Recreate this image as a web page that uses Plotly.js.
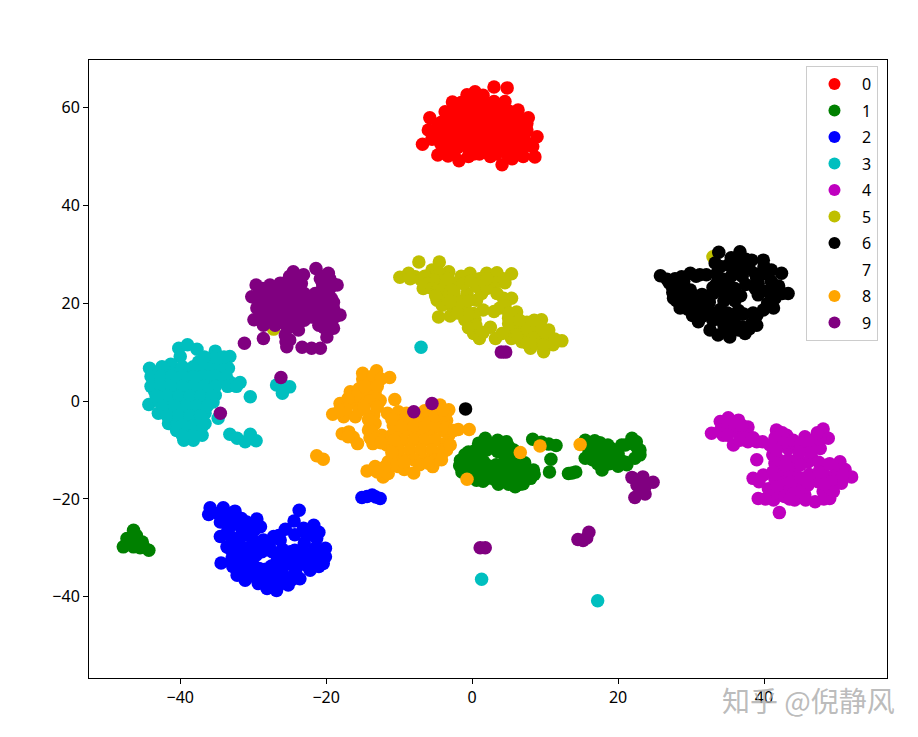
<!DOCTYPE html>
<html><head><meta charset="utf-8">
<script src="https://cdn.plot.ly/plotly-3.0.1.min.js"></script>
<style>html,body{margin:0;padding:0;background:#fff}</style></head>
<body><div id="chart" style="width:918px;height:737px"></div>
<script>
const labels = ['0','1','2','3','4','5','6','7','8','9'];
const colors = ['#ff0000','#008000','#0000ff','#00bfbf','#bf00bf','#bfbf00','#000000','#ffffff','#ffa500','#800080'];
const tickX = [-40,-20,0,20,40];
const tickY = [-40,-20,0,20,40,60];

const points0 = [[-6.8,52.5],[-5.8,57.9],[-6,55.4],[-5.5,53.5],[-4.7,50.3],[-3.3,50.1],[-1.8,49.1],[-0.5,50],[1,50.5],[2.5,50],[4.1,48.3],[5.5,49.5],[7,50],[8.6,49.9],[8.9,54],[8.3,52],[7.5,55.4],[7.7,57.9],[6.3,59.5],[4.5,61.2],[4.8,64],[3,64.2],[1.5,62.5],[0.4,63.2],[-0.7,62.6],[-2.7,61.1],[-3.7,59.1],[-4.2,57],
[-3.5,51.5],[-2,51.8],[-0.5,51.5],[1,52],[2.5,51.5],[4,51.7],[5.5,51.5],[7,52],
[-3.5,53.5],[-2,53.8],[-0.5,53.3],[1,53.7],[2.5,53.4],[4,53.7],[5.5,53.4],[7,53.8],
[-4,55.5],[-2.5,55.7],[-1,55.3],[0.5,55.7],[2,55.4],[3.5,55.7],[5,55.3],[6.5,55.6],
[-3.5,57.5],[-2,57.3],[-0.5,57.7],[1,57.4],[2.5,57.7],[4,57.3],[5.5,57.6],[6.8,57.4],
[-2.5,59.5],[-1,59.3],[0.5,59.7],[2,59.4],[3.5,59.6],[5,59.3],[-1.5,61],[0,61.3],[1.5,61],[3,61.2],[4.2,60.5],
[-4.3,52.6],[-2.8,52.6],[-1.3,52.7],[0.2,52.6],[1.8,52.7],[3.3,52.5],[4.8,52.6],[6.3,52.7],[7.8,52.6],
[-4.8,54.6],[-3.2,54.6],[-1.7,54.6],[-0.2,54.5],[1.3,54.6],[2.8,54.7],[4.3,54.5],[5.8,54.6],[7.2,54.7],
[-4.7,56.5],[-3,56.5],[-1.5,56.6],[0,56.5],[1.5,56.5],[3,56.6],[4.7,56.5],[6.2,56.5],[7.5,56.7],
[-3,58.5],[-1.5,58.4],[0,58.6],[1.5,58.5],[3,58.4],[4.5,58.6],[6,58.5],
[-1.8,60.3],[-0.3,60.3],[1,60.5],[2.5,60.3],[4,60.2],[-2.5,50.5],[0.2,50.5],[3.3,50.5],[4.8,50.5],[6.2,50.5]];

const points1 = [[1.8,-7.6],[4.7,-8.3],[-1.6,-12.1],[-1.4,-14.5],[-0.5,-10.4],[0.9,-8.6],[0.6,-16.2],[2,-15.8],[3.6,-17],[5.9,-17.5],[7,-16.9],[8.4,-14.1],[8,-15.8],[5.7,-10],[3.2,-8.7],
[0.5,-10],[2,-10],[3.5,-10.3],[-1,-12.5],[0.5,-12],[1.6,-12.4],[4.5,-12],[6,-12],[7.2,-12.6],[-0.5,-14],[1,-14],[2.5,-14.3],[4,-14],[5.5,-14],[7,-14],[4.5,-16],[6,-16],[1.3,-15.5],[-0.2,-15.2],[5,-11],
[1,-9],[2.5,-8.8],[3.5,-8],[4,-9.5],[5,-9.3],[-1,-11],[-0.2,-11.3],[1.2,-11],[2.4,-9.5],[5.2,-12.5],[6.8,-13],[3.3,-13],[2.2,-13.2],[0,-13],[-0.7,-13.2],[-1.7,-13.2],[0.2,-15],[1.8,-15],[3.2,-15.3],[4.8,-15],[5.6,-15.6],[7.3,-15],[8.5,-15],[3.6,-16],[5,-17],[6.6,-17],[3,-16],[1.5,-16.4],[5.2,-11.7],[6.5,-12.7],
[8.3,-7.8],[9.5,-8.4],[10.5,-8.8],[11.5,-9.1],[10.8,-11.9],[10.6,-14.5],[13.2,-14.8],[13.7,-14.7],[14.2,-14.5],
[15.5,-8],[16.8,-8.1],[18.6,-9],[15.5,-11.7],[17.8,-14.1],[19.6,-12.7],[21.2,-13],[23,-10],[21.9,-7.6],[21,-9],[22.3,-11.7],[16.6,-10.7],[18.2,-11.4],[20,-10.7],[19.2,-9.8],[16.5,-12],[18.8,-12.8],[21,-12.5],[17.5,-9.5],[22.3,-9],
[16.2,-9],[17.5,-8.5],[18,-10.2],[19.4,-11.2],[17,-11],[17.2,-12.8],[18,-13.3],[20.3,-12],[20.5,-9],[22.5,-8.3],[23,-11],[22.7,-9.7],[20,-13.3],[16,-10],[15.8,-9.2],[19,-11.9],[18,-12],
[-46.4,-26.4],[-47.3,-28.1],[-47.8,-29.8],[-46.4,-29.8],[-44.3,-30.5],[-45.2,-28.8],[-46,-27.5],[-45.5,-30],[-46.8,-28.8],[-45.7,-29.3],[-46,-28.6],[-47,-29],[-45,-29.8]];

const points2 = [[-35.9,-21.8],[-36.1,-23.2],[-34.1,-21.8],[-32.5,-22.5],[-34.5,-24.7],[-30.9,-24.7],[-29.5,-24.1],[-29,-25.7],[-34.5,-27.7],[-33.6,-29.8],[-34.4,-33.1],[-32.9,-32.2],[-32.2,-35.6],[-31.1,-36.6],[-29.3,-37.3],[-28.1,-38.3],[-26.8,-38.7],[-25.2,-37.6],[-23.6,-36.3],[-22.2,-34.6],[-20.4,-33.2],[-20.1,-31.8],[-20.1,-30.1],[-21.3,-28.1],[-21.7,-25.4],[-23.7,-22.3],[-24.4,-24.5],[-25.6,-26.2],[-23.1,-26],[-27.2,-27.7],[-28.6,-28.4],[-26.3,-28.4],
[-32.9,-25.4],[-31.5,-26.7],[-32.5,-28.8],[-31.1,-30.1],[-30.2,-28],[-31.5,-32.9],[-30.4,-32],[-30.6,-34.6],[-27.4,-30.8],[-28.8,-30.8],[-24.9,-30.8],[-23.8,-32.5],[-25.6,-33.5],[-27,-34.9],[-25.6,-35.9],[-27.2,-36.9],[-24.2,-35],[-22.2,-32.2],[-21.5,-30.1],[-22.6,-27.5],[-29.5,-36],[-31.6,-24],[-33.2,-23.5],[-30,-29.5],
[-34.8,-23],[-33.5,-24],[-32,-24.5],[-33.5,-26.5],[-31.8,-28],[-30.8,-27],[-29.8,-26.3],[-33,-27.8],[-33,-30.5],[-31.8,-31],[-30.2,-30.8],[-29.6,-31.5],[-30,-33.5],[-32.8,-33.8],[-31.5,-35],[-30,-35.8],[-29.2,-34.2],[-26.7,-32.5],[-25.3,-31.8],[-24.3,-30.5],[-26,-30.3],[-24.2,-33.8],[-22.8,-33.5],[-23,-31],[-21.5,-32.5],[-21,-33.8],[-26.4,-33.2],[-28,-35.8],[-28.3,-37],[-26.2,-37.3],[-24.7,-36.5],[-26.3,-35],[-21,-26.8],[-22,-26.8],[-20.5,-31],[-21.3,-31.2],[-27.8,-29.5],[-29,-29.3],[-26.5,-27.5],
[-27.5,-33.7],[-23,-29],[-24.3,-27.3],[-28.3,-34.4],
[-15.1,-19.7],[-14.4,-19.5],[-13.7,-19.2],[-13.2,-19.6],[-12.6,-19.9]];

const points3 = [[-40.2,10.8],[-39,11.5],[-37.7,10.6],[-40,9.1],[-35.2,10.2],[-33.2,9.1],[-33.4,6.7],[-44.2,6.7],[-31.8,3.8],[-33.2,3.9],[-44.3,-0.7],[-43,-2.5],[-41.6,-4.6],[-39.5,-8],[-38.2,-8],[-36.6,-4.6],[-36.6,-2.5],[-35.2,1.2],[-34.8,-3.5],[-30.4,0.9],
[-33.2,-6.8],[-32.2,-7.6],[-31.1,-8.3],[-30.4,-6.8],[-29.6,-8.1],[-26.8,3.3],[-26,1.6],[-25,2.9],[-26.2,3.8],[1.3,-36.4],[17.2,-40.8],[-7,11],
[-42.3,6.7],[-41.3,7.5],[-43,6],[-41.5,5.7],[-40,6],[-38.5,6],[-37,6.3],[-35.5,6],[-34,6.2],[-37.5,8],[-36,8.2],[-34.5,8],
[-43.5,4],[-42,4.2],[-40.5,3.8],[-39,4],[-37.5,4.2],[-36,3.8],[-34.5,4],[-43.5,2],[-42,2],[-40.5,1.8],[-39,2.2],[-37.5,2],[-36,2],
[-43,0],[-41.5,0],[-40,0.2],[-38.5,0],[-37,0],[-35.5,-0.2],[-41.5,-2],[-40,-2],[-38.5,-2.2],[-37,-2],[-40.5,-4],[-39,-4],[-37.5,-4.2],[-40.5,-6],[-39,-6],[-37.5,-6.2],
[-42.5,7],[-39.7,7],[-38.2,7],[-36.7,7],[-35.2,7],[-33.8,7],[-35.5,9],[-34,9],[-36.7,9],
[-44,5],[-42.7,5],[-41.2,5],[-39.7,5],[-38.2,5],[-36.7,5],[-35.2,5],[-33.7,5],
[-44,3],[-42.7,3],[-41.2,3],[-39.7,3],[-38.2,3],[-36.7,3],[-35.2,3],[-33.5,3],[-32.3,3],
[-43.3,1],[-41.8,1],[-40.2,1],[-38.7,1],[-37.2,1],[-35.7,1],
[-42.3,-1],[-40.8,-1],[-39.2,-1],[-37.7,-1],[-36.3,-1],[-41.8,-3],[-40.2,-3],[-38.7,-3],[-37.2,-3],
[-39.7,-5],[-38.2,-5],[-36.9,-5],[-39.7,-7],[-38.2,-7],[-37,-7]];

const points4 = [[32.8,-6.6],[34,-4.2],[35.1,-3.4],[36.5,-3.9],[34.4,-7],[35.8,-9],[37.8,-5.3],[37.8,-8.3],[36.3,-6.3],[37.2,-7],[39,-8.3],[40.8,-9],[41.7,-5.9],[43.1,-7],[45.6,-7.3],[48.1,-5.7],[48.8,-7.6],[47.2,-7.6],[47.7,-9.7],[46.5,-11.4],[39,-12],[38.5,-15.8],[39.9,-15.1],[39.2,-19.9],[41.3,-20.2],[42.1,-22.8],[40.6,-17.9],[42,-12],[44.2,-20.2],[47,-20.6],[49,-19.9],[49.3,-17.9],[52,-15.5],[50.6,-16.8],[50.4,-12.4],[48.4,-13.1],[51.1,-14],
[42.4,-16.5],[42.4,-14.5],[43.3,-12],[43.3,-9.7],[44.5,-9],[44.7,-11.7],[46,-9.7],[43.1,-18.5],[44.7,-17.2],[46,-17.2],[45.6,-19.2],[47.4,-16.5],[48.8,-15.5],[47,-15.3],[49.7,-15.1],[44.2,-13.9],[48.1,-18.5],[41.5,-12.7],[42,-8.3],[46,-12.5],
[34,-6],[35,-5],[36,-5],[35,-7],[36.7,-8],[37,-5],[38.5,-7.5],[39.8,-8.3],[41.5,-7.5],[42.5,-6.5],[42.7,-8.5],[44,-8],[45,-8.7],[46.5,-8.3],[47.7,-7.8],[47.3,-6.5],[46.3,-10.5],[44.8,-10.5],[45,-13],[43,-13.2],[41.2,-11],[41.7,-10],[41.2,-14.5],[41.5,-16],[39.3,-16.5],[41.3,-18.8],[41.8,-17.5],[43.5,-15.5],[43.7,-16.5],[44.2,-18.8],[45,-15.7],[46.2,-15],[45.7,-20.2],[48.2,-20],[49.2,-16.5],[50,-14],[50.8,-15],[49,-12.8],[47.5,-12.5],[49.5,-18.5],[48.3,-17],[42.8,-19.5],[43.5,-20],[40.2,-20],[47.5,-14.5]];

const points5 = [[-7.3,28.4],[-9.9,25.3],[-8.7,26.1],[-7.8,25.4],[-6.7,23],[-4.5,28.4],[-5.5,26.8],[-3.2,26.4],[-4.6,17.2],[-3,17.4],[-4.8,20.6],[-4.1,19.6],[-0.3,26.1],[2,26.1],[3.4,26.2],[5.4,26],[4.5,24.2],[5.4,21],[6.1,18.2],[1.5,18.6],[-1,16.6],[0.4,16.6],[2.5,15.1],[0.2,13.8],[1,12.8],[3.2,12.8],[5.4,12.8],[7.5,16.1],[9.5,16.6],[10.5,14.5],[12.3,12.3],[11.1,11.5],[9.8,10.1],[8,10.8],[6.8,12.1],
[-2.1,24.1],[-3.5,23.4],[-4.4,24.4],[-3.9,21.7],[-2.3,21],[-0.7,22],[0.6,23.4],[2.6,24.1],[3.4,22],[0.6,20.6],[-1,19],[0.2,17.9],[3.8,19],[5,16.9],[5.4,14.5],[4.1,13.8],[7,13.8],[8.9,13.8],[8.9,11.8],[10.2,12.8],[8.8,15.5],[1,25],[-1.5,25.5],[-4.5,26.2],[-5.3,24.8],[-2.8,19.5],
[-8.5,25],[-7,24.8],[-6.5,25.5],[-6,24],[-5.5,23],[-4.8,22.5],[-5,21.5],[-3.3,25],[-2.5,22.5],[-1.2,24],[-0.2,24.5],[-1.5,20.2],[-3,20.3],[-0.5,20.5],[-0.5,17.8],[-2,18],[1.3,22],[2,23],[3.7,24.5],[2,25],[4.3,25],[4.3,21],[4.5,19.5],[5,18],[3,18.3],[0.5,15.5],[1.5,14],[-0.5,15],[5,15.8],[6,15],[6.2,13.5],[7.5,14.8],[8,12.5],[9.5,15],[9.8,11.5],[10,14],[7.5,11.8],[11.3,12.7],[6.5,16.5],[8.5,16.5],
[33,29.5],[-27.2,14.7]];

const points6 = [[25.8,25.6],[26.7,24.9],[28.7,25.4],[27.4,23.4],[27.6,21],[28.5,19],[29.9,26.1],[31.2,25.8],[31,16.2],[32.6,14.5],[33.7,13.5],[35.3,13.1],[37.4,13.8],[39,15.5],[39.9,18.6],[41.3,19],[41.5,21],[43.3,22],[42.4,26.1],[39.9,28.8],[36.7,30.5],[33.8,30.4],[33.3,28.2],[38.3,28.8],[35.1,27.8],[36.7,28.2],[39.2,21.7],[32.1,25.8],[29.9,22.7],
[29,22.5],[29.3,20.5],[30.5,19],[28.5,23.5],[31.5,21.3],[33,22],[34.5,22],[36,23],[37,25.5],[35.5,25.5],[34.2,25],[34,27.5],[38,27],[40,26],[41,24.5],[40.5,22.5],[42,23.5],[39.2,24],[32,18],[33,16.5],[34.5,15.5],[36,15.5],[38,14.8],[35,18],[36.5,18.5],[36,20.5],[34,18.7],[36.5,14.5],[30.2,17.5],
[27.8,25],[28.2,22.2],[28.4,20.3],[29.6,21.3],[30.4,21],[30.7,20],[30.7,25.5],[33.5,26],[35.5,29.3],[33.5,24],[35,24],[36.5,26.8],[37.5,29],[37.5,23.8],[36.8,21.5],[35,23.3],[32.5,20.2],[31.8,19.6],[33,18],[33.8,16.8],[35,16.8],[36,17],[37.2,17.8],[38.5,18],[31.5,17.3],[34.7,14.3],[37,15.2],[38.3,15.8],[39,17.5],[38.8,26],[41,26.8],[40,27.5],[40.5,20],[41,23],[42.5,22],[39.7,22.5],[35.7,21.5],[34.5,20.5],[38.8,23],[37,27.5],[39,25],[29,24.5],[27,24.2],[27.5,22.2],[28,20.5],[29.5,18.8],
[33,23.2],[31.5,21.8],[30,21.8],
[-0.9,-1.6]];

const points7 = [[-8,-46],[-3,-48],[30,-48]];

const points8 = [[-15,5.7],[-13.1,6.2],[-11.3,4.8],[-14,3.6],[-16.7,1.9],[-18.1,-0.5],[-19.1,-2.7],[-17.6,-3.2],[-16,-3.2],[-14.9,-0.5],[-12.6,0.1],[-16,-0.5],[-14.9,1.9],[-13.3,1.6],[-13.5,-2.9],[-14.2,-5.9],[-13.3,-4.6],[-10.6,0.3],[-17.8,-6.7],[-16.9,-6.3],[-16.3,-7.4],[-15.7,-8.7],[-13.6,-8.7],[-12.4,-7],[-11.7,-9],[-21.3,-11.2],[-20.4,-11.9],[-14.4,-14.3],[-13.3,-13.4],[-12.2,-15.5],[-11.5,-14.8],[-11.5,-12.4],[-10.1,-13.4],[-8,-14.7],[-5.4,-13.4],[-4.2,-11],[-4.4,-0.8],[-3.2,-1.8],[-11.6,-2.5],[-10.1,-2.2],[-3.2,-7],[-1.9,-5.8],[-0.4,-5.8],[-0.7,-16],[6.6,-10.5],[9.3,-9.2],[14.8,-8.9],
[-9.5,-4],[-8,-4],[-6.5,-4],[-5,-4],[-3.5,-4],[-10,-6],[-8.5,-6],[-7,-6],[-5.5,-6],[-4,-6],[-9.5,-8],[-8,-8],[-6.5,-8],[-5,-8],[-3.5,-8.5],[-10,-10],[-8.5,-10],[-7,-10],[-5.5,-10],[-4,-10],[-9.5,-12],[-8,-12],[-6.5,-12],[-5,-12],[-10.8,-11],[-8,-2.5],[-6.5,-2],[-5,-2],[-15.5,2.5],[-13.5,4],[-15.5,-2],[-14,0],[-10.5,-4],
[-15,4.5],[-13.5,5.2],[-12.5,4.5],[-14.7,3],[-16,1],[-13,3],[-17,0.5],[-17.3,-1.7],[-18.2,-2],[-14.8,-1.5],[-13,-1.2],[-14.2,-3.8],[-13.7,-6.3],[-14,-7.5],[-13.2,-7.7],[-17,-7.3],[-12.5,-8.5],[-11,-7],[-10.8,-5],[-11,-3.7],[-9,-2.5],[-9.5,-5],[-8,-5],[-6.5,-5],[-5,-5],[-3.5,-5.5],[-10.7,-8],[-11,-10.5],[-10.8,-13],[-9.3,-14],[-9.3,-12.5],[-7.2,-13],[-6,-12.7],[-12,-13.5],[-13,-14.5],[-3.5,-10],[-5,-3],[-3.7,-2.8],[-9,-3],[-7.5,-3],[-4.2,-12],[-2.5,-6],[-3,-9],[-4,-1.8]];

const points9 = [[-29.6,23.7],[-30.2,21.3],[-29.9,16.6],[-28.6,15.5],[-28.6,12.8],[-31.2,11.8],[-25.5,12.1],[-25.4,11.1],[-25.6,13.5],[-23.3,11],[-22,10.8],[-20.8,10.8],[-19.9,13.1],[-19,14.9],[-18.1,17.6],[-19,20.2],[-19.2,24.1],[-18.5,23.7],[-19.7,26.1],[-21.4,27.1],[-24.5,26.4],[-23.1,25.8],[-27.7,23.7],[-26.3,24.1],[-23.8,14.5],[-24.9,15.2],
[-29,22],[-27.5,22],[-26,22],[-24.5,22],[-23,22],[-21.5,22],[-20,22],[-29,20],[-27.5,20],[-26,20.2],[-24.5,20],[-23,20],[-21.5,20],[-20,20],[-29,18],[-27.5,18],[-26,18],[-24,18],[-22.5,18],[-21,18],[-19.5,18],[-28,16.5],[-26.5,16.5],[-24.5,16.5],[-23,16.5],[-21,16.5],[-19.5,16.5],[-26,24],[-24.5,24],[-23.4,24],[-20.5,24],[-25,25.5],[-23.5,25.5],[-20.5,25.5],[-20.3,15],
[-28.7,23],[-27.2,23],[-25.3,23],[-23.8,23],[-20.5,23],[-19.5,23],[-29.5,21],[-28,21],[-26.7,21],[-25.2,21],[-23.7,21],[-22.2,21],[-20.7,21],[-19.3,21],
[-29.5,19],[-28.2,19],[-26.7,19],[-25.2,19],[-23.5,19],[-22,19],[-20.5,19],[-19,19],[-29,17.2],[-27.3,17.2],[-25.3,17.2],[-23.7,17.2],[-22,17.2],[-20.2,17.2],[-18.8,17.2],
[-27,15.5],[-25.5,15.5],[-21,15.5],[-19.8,15.5],[-24,24.9],[-20.8,25],[-19.5,25],[-25,12.5],
[-26.2,4.8],[-34.5,-2.5],[-8,-2.2],[-5.5,-0.5],[4,10],[4.6,10],
[21.9,-15.6],[23.4,-15.5],[24.8,-16.6],[23.7,-17.5],[22.6,-17.2],[23.7,-19],[22.3,-19.7],[23,-18],
[14.5,-28.3],[15.2,-28.5],[15.7,-28],[16,-26.8],[1.1,-30],[1.8,-30]];

const allPoints = [points0,points1,points2,points3,points4,points5,points6,points7,points8,points9];

const traces = labels.map((name,i)=>({
  type:'scatter',mode:'markers',name,legendgroup:name,
  x:allPoints[i].map(p=>p[0]),y:allPoints[i].map(p=>p[1]),
  marker:{color:colors[i],size:13.5,line:{width:0}},hoverinfo:'skip'
}));

const layout = {
  width:918,height:737,
  margin:{l:89,r:31,t:60,b:59,pad:0},
  paper_bgcolor:'#fff',plot_bgcolor:'#fff',
  font:{family:'"Noto Sans","Open Sans",sans-serif',size:16,color:'#000'},
  xaxis:{range:[-52.5,56.85],tickvals:tickX,ticks:'outside',ticklen:5,tickcolor:'#000',tickwidth:1,showgrid:false,zeroline:false,showline:true,linecolor:'#000',linewidth:1,mirror:true,tickfont:{size:16}},
  yaxis:{range:[-56.6,69.7],tickvals:tickY,ticks:'outside',ticklen:5,tickcolor:'#000',tickwidth:1,showgrid:false,zeroline:false,showline:true,linecolor:'#000',linewidth:1,mirror:true,tickfont:{size:16}},
  showlegend:true,
  legend:{x:0.9887,y:0.99,xanchor:'right',yanchor:'top',bgcolor:'rgba(255,255,255,0.8)',bordercolor:'#ccc',borderwidth:1,font:{size:16,color:'#000'},traceorder:'grouped',tracegroupgap:2.7,itemsizing:'constant',itemwidth:45},
  annotations:[{xref:'paper',yref:'paper',x:(808.5-89)/798,y:-(700-678)/618,xanchor:'center',yanchor:'middle',showarrow:false,
    text:'知乎 @倪静风',font:{family:'"Noto Sans CJK SC"',size:28,color:'rgba(170,170,170,0.8)'}}]
};
Plotly.newPlot('chart',traces,layout,{displayModeBar:false,staticPlot:true});
</script></body></html>
